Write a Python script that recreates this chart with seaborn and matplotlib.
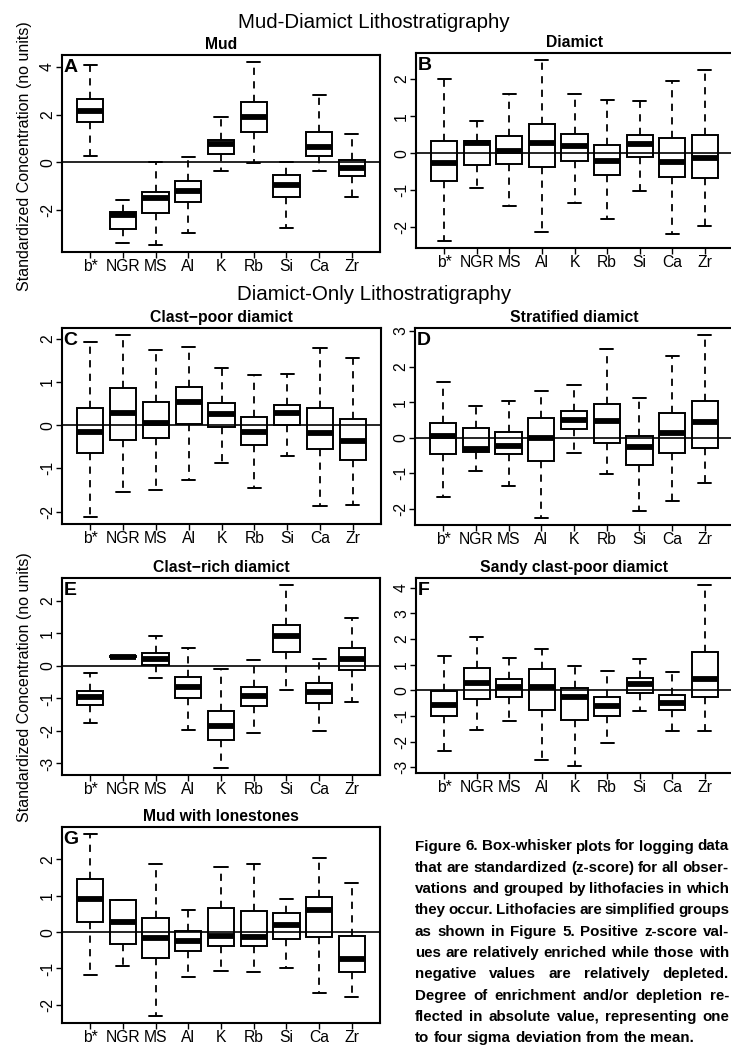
import numpy as np
import pandas as pd
import matplotlib
matplotlib.use("Agg")
import matplotlib.pyplot as plt
from matplotlib.ticker import MultipleLocator
import seaborn as sns

elements = ["b*", "NGR", "MS", "Al", "K", "Rb", "Si", "Ca", "Zr"]

# rows: lower whisker, Q1, median, Q3, upper whisker (z-scores)
mud = [[0.28, -3.37, -3.45, -2.95, -0.35, -0.04, -2.76, -0.35, -1.44],
       [1.68, -2.78, -2.12, -1.68, 0.35, 1.26, -1.47, 0.25, -0.59],
       [2.16, -2.19, -1.49, -1.19, 0.77, 1.89, -0.97, 0.66, -0.22],
       [2.66, -2.08, -1.26, -0.77, 0.95, 2.54, -0.52, 1.28, 0.11],
       [4.07, -1.56, 0.00, 0.21, 1.88, 4.19, 0.00, 2.81, 1.19]]

diamict = [[-2.36, -0.93, -1.41, -2.13, -1.33, -1.78, -1.03, -2.17, -1.96],
           [-0.75, -0.31, -0.29, -0.38, -0.22, -0.58, -0.11, -0.64, -0.66],
           [-0.26, 0.28, 0.07, 0.28, 0.20, -0.22, 0.25, -0.24, -0.13],
           [0.33, 0.33, 0.47, 0.79, 0.52, 0.22, 0.49, 0.40, 0.49],
           [2.00, 0.88, 1.60, 2.51, 1.60, 1.44, 1.42, 1.95, 2.24]]

clast_poor = [[-2.12, -1.54, -1.50, -1.27, -0.88, -1.46, -0.71, -1.88, -1.85],
              [-0.64, -0.34, -0.29, 0.02, -0.05, -0.47, 0.00, -0.56, -0.80],
              [-0.15, 0.27, 0.06, 0.53, 0.25, -0.15, 0.28, -0.18, -0.36],
              [0.40, 0.87, 0.53, 0.88, 0.52, 0.19, 0.47, 0.39, 0.15],
              [1.93, 2.08, 1.75, 1.81, 1.33, 1.16, 1.18, 1.79, 1.55]]

stratified = [[-1.68, -0.93, -1.36, -2.25, -0.44, -1.01, -2.05, -1.79, -1.28],
              [-0.45, -0.40, -0.46, -0.66, 0.25, -0.14, -0.78, -0.42, -0.28],
              [0.05, -0.33, -0.23, -0.01, 0.50, 0.46, -0.25, 0.14, 0.43],
              [0.41, 0.28, 0.15, 0.54, 0.75, 0.94, 0.06, 0.70, 1.02],
              [1.57, 0.88, 1.04, 1.32, 1.48, 2.49, 1.11, 2.31, 2.88]]

clast_rich = [[-1.76, 0.25, -0.38, -1.96, -3.13, -2.05, -0.74, -2.00, -1.12],
              [-1.21, 0.26, 0.02, -1.00, -2.28, -1.22, 0.44, -1.13, -0.14],
              [-0.96, 0.28, 0.22, -0.64, -1.85, -0.92, 0.92, -0.80, 0.21],
              [-0.77, 0.30, 0.41, -0.35, -1.40, -0.64, 1.27, -0.52, 0.55],
              [-0.23, 0.31, 0.93, 0.55, -0.09, 0.19, 2.48, 0.21, 1.46]]

sandy = [[-2.35, -1.54, -1.20, -2.70, -2.94, -2.05, -0.79, -1.57, -1.57],
         [-1.00, -0.32, -0.25, -0.76, -1.14, -0.99, -0.10, -0.77, -0.26],
         [-0.57, 0.27, 0.13, 0.12, -0.25, -0.61, 0.23, -0.50, 0.45],
         [-0.04, 0.89, 0.44, 0.83, 0.09, -0.25, 0.48, -0.18, 1.50],
         [1.33, 2.08, 1.28, 1.60, 0.95, 0.77, 1.24, 0.70, 4.10]]

lonestones = [[-1.17, -0.92, -2.30, -1.24, -1.06, -1.11, -0.98, -1.67, -1.78],
              [0.28, -0.33, -0.72, -0.51, -0.39, -0.39, -0.20, -0.14, -1.11],
              [0.91, 0.28, -0.15, -0.24, -0.10, -0.13, 0.20, 0.60, -0.74],
              [1.45, 0.89, 0.38, 0.04, 0.65, 0.57, 0.52, 0.96, -0.10],
              [2.69, 0.89, 1.87, 0.61, 1.80, 1.87, 0.91, 2.03, 1.34]]

caption = ["Figure 6. Box-whisker plots for logging data",
           "that are standardized (z-score) for all obser-",
           "vations and grouped by lithofacies in which",
           "they occur. Lithofacies are simplified groups",
           "as shown in Figure 5. Positive z-score val-",
           "ues are relatively enriched while those with",
           "negative values are relatively depleted.",
           "Degree of enrichment and/or depletion re-",
           "flected in absolute value, representing one",
           "to four sigma deviation from the mean."]

sns.set_style("ticks", {"axes.edgecolor": "black", "xtick.color": "black",
                        "ytick.color": "black", "text.color": "black"})
plt.rcParams["font.family"] = ["Liberation Sans", "DejaVu Sans"]
plt.rcParams["axes.unicode_minus"] = False

W, H = 731, 1047
fig = plt.figure(figsize=(W / 100, H / 100), dpi=100)


def px(l, r, t, b):
    return [l / W, 1 - b / H, (r - l) / W, (b - t) / H]


panels = [(mud, "Mud", "A", 2, (62, 380, 55, 252)),
          (diamict, "Diamict", "B", 1, (416, 733, 53, 248)),
          (clast_poor, "Clast\u2212poor diamict", "C", 1, (62, 381, 328, 524)),
          (stratified, "Stratified diamict", "D", 1, (415, 733, 328, 525)),
          (clast_rich, "Clast\u2212rich diamict", "E", 1, (62, 380, 578, 775)),
          (sandy, "Sandy clast-poor diamict", "F", 1, (416, 733, 578, 773)),
          (lonestones, "Mud with lonestones", "G", 1, (62, 380, 827, 1023))]

for stats, title, letter, step, pos in panels:
    ax = fig.add_axes(px(*pos))
    df = pd.DataFrame(stats, columns=elements)
    sns.boxplot(data=df, ax=ax, whis=(0, 100), width=0.8, color="white",
                saturation=1, linecolor="black", linewidth=1.4, showfliers=False,
                medianprops={"linewidth": 4.2},
                whiskerprops={"linestyle": (0, (4, 3.5)), "linewidth": 1.3})
    ax.axhline(0, color="black", lw=1.2, zorder=5)
    lo, hi = min(stats[0]), max(stats[4])
    pad = 0.04 * (hi - lo)
    ax.set_ylim(lo - pad, hi + pad)
    ax.set_xlim(-0.86, 8.86)
    ax.yaxis.set_major_locator(MultipleLocator(step))
    ax.set_xlabel("")
    ax.set_ylabel("")
    ax.tick_params(labelsize=11.3, length=4, width=1, pad=1, color="black")
    ax.tick_params(axis="y", labelrotation=90)
    for t in ax.get_yticklabels():
        t.set_va("center")
    for s in ax.spines.values():
        s.set_linewidth(1.5)
    ax.set_title(title, fontsize=11.3, fontweight="bold", pad=4.3)
    ax.annotate(letter, xy=(0, 1), xycoords="axes fraction", xytext=(1, -3),
                textcoords="offset points", ha="left", va="top",
                fontsize=14, fontweight="bold")

fig.text(374 / W, 1 - 22 / H, "Mud-Diamict Lithostratigraphy", fontsize=14.8,
         ha="center", va="center")
fig.text(374 / W, 1 - 294 / H, "Diamict-Only Lithostratigraphy", fontsize=14.8,
         ha="center", va="center")
for yc in (156, 687):
    fig.text(25 / W, 1 - yc / H, "Standardized Concentration (no units)",
             fontsize=11.5, rotation=90, ha="center", va="center")

# justified caption, word by word, kept inside the right edge
renderer = fig.canvas.get_renderer()
x0, x1 = 415, 729
for i, line in enumerate(caption):
    y = 1 - (850.5 + 21.3 * i) / H
    words = line.split()
    texts = [fig.text(0, y, w, fontsize=10.9, fontweight="bold", va="baseline")
             for w in words]
    widths = [t.get_window_extent(renderer).width for t in texts]
    if i < len(caption) - 1:
        gap = max((x1 - x0 - sum(widths)) / (len(words) - 1), 2.5)
    else:
        gap = 4.2
    x = x0
    for t, w in zip(texts, widths):
        t.set_x(x / W)
        x += w + gap

fig.savefig("out.png", dpi=100)
